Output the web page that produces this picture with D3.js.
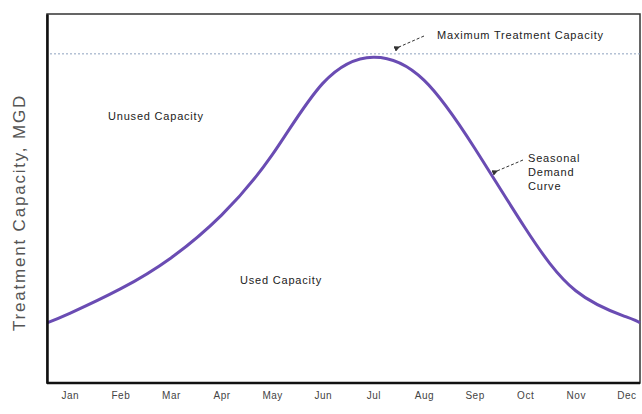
<!DOCTYPE html>
<html><head><meta charset="utf-8">
<script src="https://cdn.jsdelivr.net/npm/d3@7"></script>
<style>body{margin:0;background:#fff;}svg{display:block;font-family:"Liberation Sans",Arial,sans-serif;}</style>
</head><body>
<script>
const months = ["Jan","Feb","Mar","Apr","May","Jun","Jul","Aug","Sep","Oct","Nov","Dec"];
// month position (0 = Jan) and seasonal demand value (MGD, relative)
const demandMonth = [-0.45, 0, 1, 2, 3, 4, 5, 6, 7, 8, 9, 10, 11, 11.27];
const demandValue = [16.3, 18.9, 25.5, 33.9, 45.5, 61.8, 81.2, 88.3, 82.1, 63.7, 42.0, 25.0, 17.9, 16.3];
const maxCapacity = [89.2];
const yLabel = "Treatment Capacity, MGD";

const W = 642, H = 414;
const m = {left: 47, right: 2, top: 14, bottom: 31};
const svg = d3.select("body").append("svg").attr("width", W).attr("height", H);

const x = d3.scaleLinear().domain([-0.45, 11.27]).range([m.left, W - m.right]);
const y = d3.scaleLinear().domain([0, 100]).range([H - m.bottom, m.top]);

// frame (top/right)
svg.append("rect").attr("x", m.left).attr("y", m.top)
  .attr("width", W - m.right - m.left).attr("height", H - m.bottom - m.top)
  .attr("fill", "none").attr("stroke", "#333").attr("stroke-width", 1.5);

// max capacity dotted line
svg.append("line").attr("x1", m.left + 3).attr("x2", W - m.right)
  .attr("y1", y(maxCapacity[0])).attr("y2", y(maxCapacity[0]))
  .attr("stroke", "#8fa3bf").attr("stroke-width", 1).attr("stroke-dasharray", "2,2");

// curve
const line = d3.line().x((d,i) => x(demandMonth[i])).y(d => y(d)).curve(d3.curveNatural);
svg.append("path").datum(demandValue).attr("d", line)
  .attr("fill", "none").attr("stroke", "#6a4cb3").attr("stroke-width", 3);

// axes (left & bottom heavy)
const xAxis = d3.axisBottom(d3.scalePoint().domain(months).range([x(0), x(11)])).tickSize(0).tickPadding(9);
const gx = svg.append("g").attr("transform", `translate(0,${H - m.bottom})`).call(xAxis);
gx.select(".domain").remove();
gx.selectAll("text").attr("font-size", 10).attr("fill", "#444").attr("letter-spacing", 0.5);
svg.append("line").attr("x1", m.left).attr("x2", W - m.right).attr("y1", H - m.bottom).attr("y2", H - m.bottom)
  .attr("stroke", "#111").attr("stroke-width", 2.5);
const gy = svg.append("g").attr("transform", `translate(${m.left},0)`).call(d3.axisLeft(y).ticks(0).tickSize(0));
gy.select(".domain").attr("stroke", "#111").attr("stroke-width", 2.5);

// y label
svg.append("text").attr("transform", `translate(25,${(m.top + H - m.bottom)/2 + 14}) rotate(-90)`)
  .attr("text-anchor", "middle").attr("font-size", 17).attr("letter-spacing", 1.8)
  .attr("fill", "#555").text(yLabel);

// annotations
const defs = svg.append("defs");
defs.append("marker").attr("id", "ah").attr("viewBox", "0 0 10 10").attr("refX", 2).attr("refY", 5)
  .attr("markerWidth", 6).attr("markerHeight", 6).attr("orient", "auto-start-reverse")
  .append("path").attr("d", "M10,0 L0,5 L10,10 z").attr("fill", "#333");

const ann = {size: 11, ls: 0.8, fill: "#222"};
function label(xp, yp, t) {
  return svg.append("text").attr("x", xp).attr("y", yp).attr("font-size", ann.size)
    .attr("letter-spacing", ann.ls).attr("fill", ann.fill).text(t);
}
svg.append("line").attr("x1", 424).attr("y1", 36).attr("x2", 399).attr("y2", 47)
  .attr("stroke", "#333").attr("stroke-width", 1).attr("stroke-dasharray", "3,2").attr("marker-end", "url(#ah)");
label(437, 39, "Maximum Treatment Capacity");
label(108, 120, "Unused Capacity");
label(240, 284, "Used Capacity");

svg.append("line").attr("x1", 523).attr("y1", 160).attr("x2", 497).attr("y2", 171)
  .attr("stroke", "#333").attr("stroke-width", 1).attr("stroke-dasharray", "3,2").attr("marker-end", "url(#ah)");
const sd = svg.append("text").attr("x", 528).attr("y", 162).attr("font-size", ann.size)
  .attr("letter-spacing", ann.ls).attr("fill", ann.fill);
["Seasonal","Demand","Curve"].forEach((t,i) => sd.append("tspan").attr("x", 528).attr("dy", i ? 14 : 0).text(t));
</script>
</body></html>
